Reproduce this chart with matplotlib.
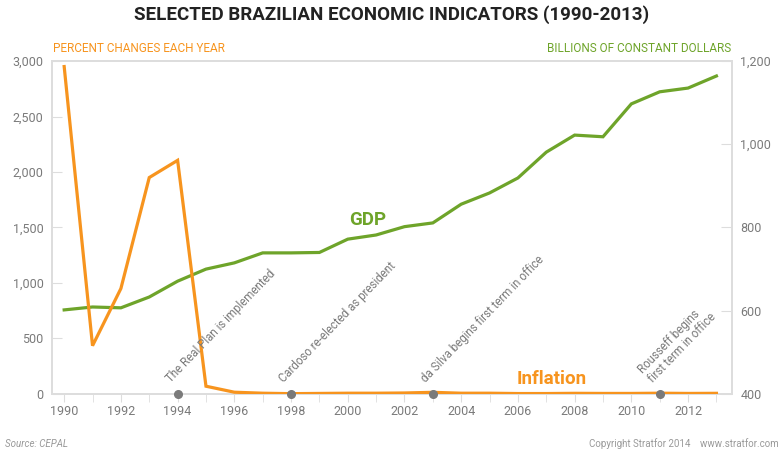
import matplotlib
matplotlib.use('Agg')
import matplotlib.pyplot as plt
from matplotlib.ticker import FuncFormatter, MultipleLocator

plt.rcParams['font.family'] = ['Roboto', 'DejaVu Sans']

years = list(range(1990, 2014))
inflation = [2950, 435, 950, 1950, 2105, 70, 16, 7, 3, 5, 7, 7, 9, 15, 7, 7, 4, 4, 6, 5, 5, 7, 5, 6]
gdp = [602, 609, 607, 633, 671, 700, 715, 739, 739, 740, 772, 782, 802, 811,
       856, 883, 919, 981, 1022, 1018, 1097, 1126, 1135, 1164]

event_years = [1994, 1998, 2003, 2011]
event_labels = ['The Real Plan is implemented', 'Cardoso re-elected as president',
                'da Silva begins first term in office', 'Rousseff begins\nfirst term in office']

ORANGE = '#f7941e'
GREEN = '#6ea42a'
GRAY = '#7a7a7a'
SPINE = '#dddddd'

fig = plt.figure(figsize=(7.84, 4.57), dpi=100)
ax = fig.add_axes([0.0663, 0.1379, 0.8674, 0.7286])
ax2 = ax.twinx()

ax.plot(years, inflation, color=ORANGE, lw=2.3, zorder=3, solid_joinstyle='miter')
ax2.plot(years, gdp, color=GREEN, lw=2.3, zorder=3, solid_joinstyle='miter')

ax.set_xlim(1989.57, 2013.55)
ax.set_ylim(0, 3000)
ax2.set_ylim(400, 1200)

ax.set_zorder(ax2.get_zorder() + 1)
ax.patch.set_visible(False)

for a in (ax, ax2):
    for s in a.spines.values():
        s.set_color(SPINE)
        s.set_linewidth(1.2)

ax.yaxis.set_major_locator(MultipleLocator(500))
ax.yaxis.set_major_formatter(FuncFormatter(lambda v, p: f'{v:,.0f}'))
ax2.yaxis.set_major_locator(MultipleLocator(200))
ax2.yaxis.set_major_formatter(FuncFormatter(lambda v, p: f'{v:,.0f}'))
ax.set_xticks(years[::2])
ax.set_xticks(years, minor=True)

ax.tick_params(axis='x', which='both', direction='out', length=6, color=SPINE,
               labelcolor=GRAY, labelsize=9, pad=2)
ax.tick_params(axis='y', direction='in', length=7, color=SPINE, labelcolor=GRAY,
               labelsize=9, pad=6)
ax2.tick_params(axis='y', direction='in', length=8, color=SPINE, labelcolor=GRAY,
                labelsize=9, pad=6)

# event markers
for yr, lab in zip(event_years, event_labels):
    ax.plot(yr, 0, 'o', color=GRAY, ms=5.5, zorder=5, clip_on=False)
    ax.annotate(lab, (yr, 0), xytext=(-5, 9), textcoords='offset pixels',
                rotation=46, rotation_mode='anchor', ha='left', va='bottom',
                color=GRAY, fontsize=8.3, linespacing=1.0, multialignment='left')

ax.text(2007.2, 135, 'Inflation', color=ORANGE, fontsize=13.5, fontweight='bold',
        ha='center', va='center')
ax2.text(2000.7, 818, 'GDP', color=GREEN, fontsize=13.5, fontweight='bold',
         ha='center', va='center')

fig.text(0.5, 0.967, 'SELECTED BRAZILIAN ECONOMIC INDICATORS (1990-2013)',
         ha='center', va='center', fontsize=13.5, fontweight='bold', color='#222222')
fig.text(0.0675, 0.893, 'PERCENT CHANGES EACH YEAR', ha='left', va='center',
         fontsize=8.5, color=ORANGE)
fig.text(0.933, 0.893, 'BILLIONS OF CONSTANT DOLLARS', ha='right', va='center',
         fontsize=8.5, color=GREEN)
fig.text(0.006, 0.017, 'Source: CEPAL', ha='left', va='bottom', fontsize=7,
         color='#999999', style='italic')
fig.text(0.993, 0.017, 'Copyright Stratfor 2014    www.stratfor.com', ha='right',
         va='bottom', fontsize=7, color='#999999')

fig.savefig('out.png', dpi=100)
